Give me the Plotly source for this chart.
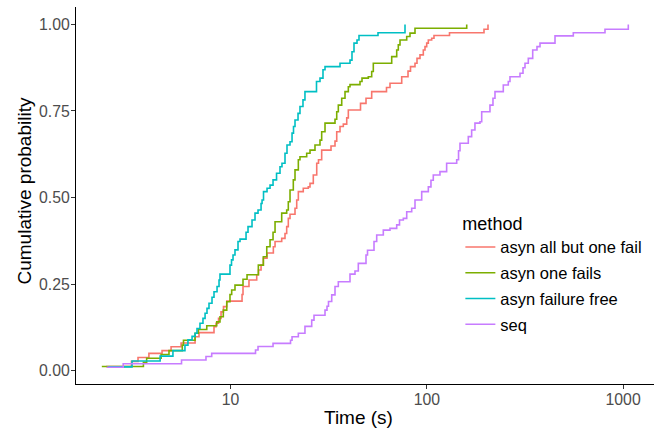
import plotly.graph_objects as go

# ECDF step corners: time (s) and cumulative probability
t_all_but_one = [2.32, 3.13, 3.38, 3.84, 4.48, 4.98, 5.60, 6.60, 6.91, 8.24,
                 8.44, 8.69, 8.95, 9.21, 9.57, 11.45, 11.58, 12.42, 13.60, 13.89,
                 14.31, 14.70, 15.35, 16.53, 16.86, 18.23, 18.95, 19.33, 19.70, 20.10,
                 21.31, 21.74, 22.16, 23.48, 24.90, 25.41, 26.41, 27.49, 28.07, 29.14,
                 32.51, 34.07, 34.76, 36.13, 37.56, 39.09, 39.83, 45.95, 49.01, 52.39,
                 62.33, 64.94, 74.50, 80.22, 82.59, 87.07, 89.14, 92.33, 95.98, 97.91,
                 99.88, 101.8, 105.9, 108.8, 130.5, 195.6, 205.0]
p_all_but_one = [.012, .027, .038, .05, .058, .069, .08, .098, .11, .127,
                 .137, .151, .17, .185, .201, .22, .243, .262, .277, .291,
                 .305, .325, .34, .358, .373, .382, .396, .416, .44, .452,
                 .469, .493, .517, .527, .531, .541, .565, .599, .609, .637,
                 .649, .663, .69, .705, .712, .73, .753, .772, .787, .806,
                 .818, .83, .849, .865, .878, .888, .902, .912, .926, .936,
                 .946, .955, .96, .968, .976, .986, 1.0]

t_one_fails = [2.21, 3.60, 3.74, 4.43, 4.86, 5.68, 5.76, 6.60, 6.86, 7.57,
               8.51, 8.84, 9.19, 9.57, 9.94, 10.14, 10.54, 11.58, 12.14, 13.86,
               14.70, 15.30, 15.90, 16.47, 16.86, 18.23, 19.33, 19.70, 20.10, 20.89,
               21.31, 22.16, 22.59, 24.44, 25.41, 26.94, 28.57, 29.14, 30.30, 34.07,
               34.76, 35.42, 36.86, 38.31, 39.83, 40.62, 45.68, 46.76, 50.35, 52.39,
               53.39, 66.25, 70.25, 71.58, 73.03, 79.00, 82.11, 87.07, 159.7]
p_one_fails = [.012, .024, .036, .047, .058, .074, .088, .108, .119, .13,
               .141, .156, .175, .199, .22, .233, .247, .264, .277, .305,
               .329, .358, .378, .40, .43, .455, .464, .488, .522, .551,
               .58, .609, .618, .628, .637, .652, .666, .69, .715, .726,
               .748, .767, .787, .806, .82, .826, .835, .845, .849, .864,
               .888, .907, .926, .941, .955, .965, .975, .989, 1.0]

t_failure_free = [2.38, 3.15, 4.38, 5.09, 5.86, 6.07, 6.37, 6.60, 6.75, 6.99,
                  7.24, 7.42, 7.59, 7.77, 8.05, 8.24, 8.54, 8.74, 8.84, 9.94,
                  10.12, 10.30, 10.54, 10.92, 11.18, 12.00, 12.28, 12.87, 13.33, 13.81,
                  14.31, 14.48, 14.73, 15.35, 15.90, 16.47, 17.16, 17.87, 18.29, 18.95,
                  19.40, 20.10, 20.58, 20.94, 21.31, 22.08, 22.59, 23.40, 23.95, 27.42,
                  28.57, 29.59, 30.30, 36.13, 40.62, 41.58, 42.57, 44.10, 45.14, 56.41,
                  77.44]
p_failure_free = [.011, .028, .042, .058, .074, .089, .099, .108, .122, .137,
                  .151, .166, .18, .195, .212, .228, .243, .262, .279, .305,
                  .32, .334, .349, .373, .38, .40, .416, .435, .455, .464,
                  .483, .493, .517, .527, .536, .551, .57, .589, .599, .628,
                  .652, .661, .686, .705, .724, .743, .763, .782, .806, .835,
                  .845, .869, .878, .888, .897, .921, .946, .955, .968, .976,
                  1.0]

t_seq = [2.34, 2.84, 5.63, 7.50, 8.02, 13.41, 13.81, 16.47, 20.22, 20.58,
         22.16, 23.95, 25.92, 26.63, 30.30, 31.02, 31.56, 32.78, 34.07, 35.42,
         40.62, 43.07, 44.78, 49.01, 49.88, 53.83, 55.56, 60.04, 64.94, 70.25,
         72.60, 75.91, 79.00, 83.76, 87.07, 94.19, 101.8, 105.0, 107.9, 116.7,
         126.2, 142.0, 145.1, 147.6, 162.7, 169.2, 175.9, 186.6, 190.4, 209.8,
         217.3, 222.5, 245.3, 260.1, 265.3, 298.4, 309.1, 316.4, 328.9, 346.3,
         364.2, 377.3, 449.9, 557.6, 808.7, 1062.8]
p_seq = [.01, .02, .031, .041, .05, .06, .07, .079, .088, .098,
         .108, .128, .146, .16, .175, .186, .2, .219, .243, .257,
         .279, .288, .31, .334, .348, .373, .392, .406, .411, .421,
         .435, .44, .459, .469, .493, .517, .531, .55, .565, .575,
         .599, .609, .635, .657, .676, .695, .715, .719, .748, .767,
         .787, .806, .825, .835, .849, .859, .875, .888, .902, .926,
         .936, .946, .967, .976, .986, 1.0]

methods = ["asyn all but one fail", "asyn one fails", "asyn failure free", "seq"]
colors = ["#F8766D", "#7CAE00", "#00BFC4", "#C77CFF"]
series = [(t_all_but_one, p_all_but_one), (t_one_fails, p_one_fails),
          (t_failure_free, p_failure_free), (t_seq, p_seq)]

x_ticks = [10, 100, 1000]
x_ticktext = ["10", "100", "1000"]
y_ticks = [0, 0.25, 0.5, 0.75, 1.0]
y_ticktext = ["0.00", "0.25", "0.50", "0.75", "1.00"]

FONT = "Liberation Sans, Arial, sans-serif"

fig = go.Figure()
for name, col, (t, p) in zip(methods, colors, series):
    fig.add_trace(go.Scatter(x=t, y=p, mode="lines", name=name, legendgroup=name,
                             line=dict(color=col, width=1.6, shape="hv")))

fig.update_layout(
    width=662, height=431,
    margin=dict(l=76, r=8, t=7, b=47, autoexpand=False),
    plot_bgcolor="white", paper_bgcolor="white",
    font=dict(family=FONT),
    showlegend=True,
    legend=dict(
        title=dict(text="method", font=dict(size=18, color="black", family=FONT)),
        font=dict(size=16.5, color="black", family=FONT),
        x=0.665, y=0.471, xanchor="left", yanchor="top",
        bgcolor="rgba(0,0,0,0)", tracegroupgap=1.3,
    ),
    xaxis=dict(
        type="log", range=[0.2129, 3.1574], automargin=False,
        tickvals=x_ticks, ticktext=x_ticktext,
        showline=True, linecolor="black", linewidth=1.1,
        ticks="outside", ticklen=4, tickwidth=1.1, tickcolor="#333333",
        tickfont=dict(size=15.8, color="#4D4D4D", family=FONT),
        ticklabelstandoff=-3,
        showgrid=False, zeroline=False,
    ),
    yaxis=dict(
        range=[-0.0384, 1.0503], automargin=False,
        tickvals=y_ticks, ticktext=y_ticktext,
        showline=True, linecolor="black", linewidth=1.1,
        ticks="outside", ticklen=4, tickwidth=1.1, tickcolor="#333333",
        tickfont=dict(size=15.8, color="#4D4D4D", family=FONT),
        ticklabelstandoff=-2,
        showgrid=False, zeroline=False,
    ),
    annotations=[
        dict(text="Time (s)", xref="paper", yref="paper", x=0.5, y=0,
             xanchor="center", yanchor="middle", xshift=-7, yshift=-33,
             showarrow=False, font=dict(size=19, color="black", family=FONT)),
        dict(text="Cumulative probability", xref="paper", yref="paper", x=0, y=0.5,
             xanchor="center", yanchor="middle", xshift=-52, yshift=4, textangle=-90,
             showarrow=False, font=dict(size=19, color="black", family=FONT)),
    ],
)

fig.write_html("out.html")
